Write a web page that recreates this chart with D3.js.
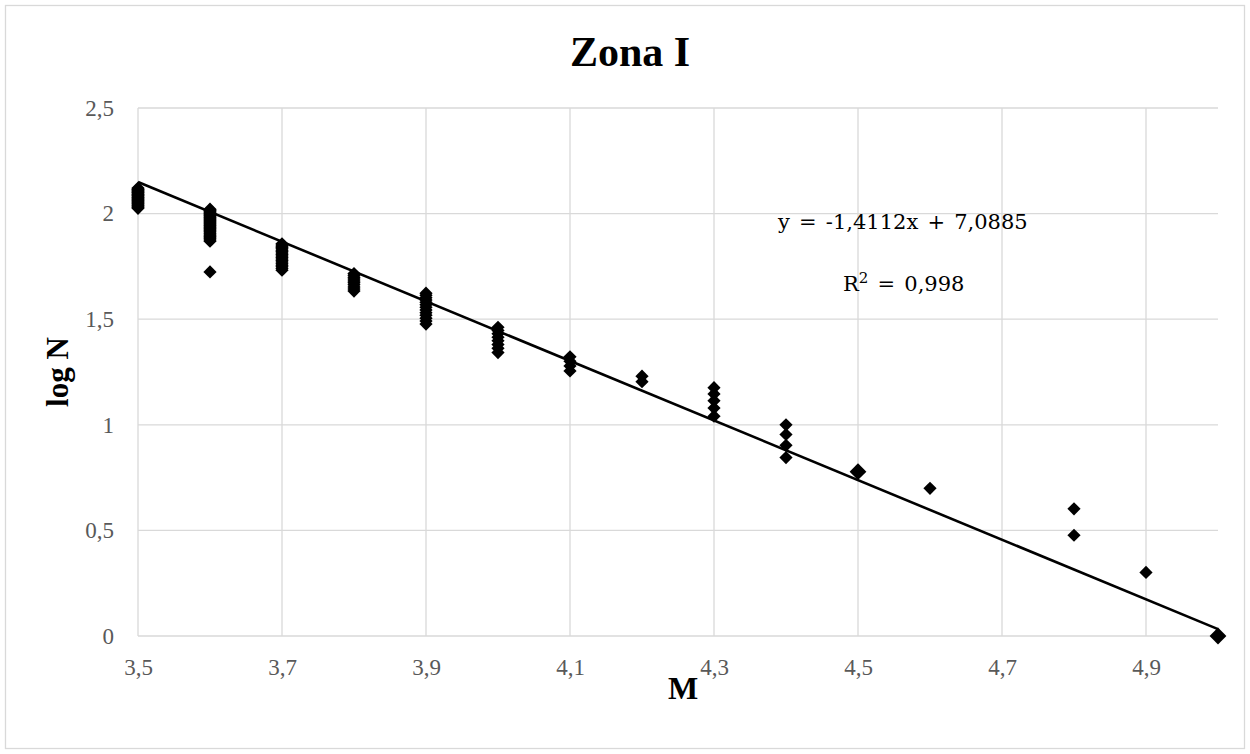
<!DOCTYPE html>
<html>
<head>
<meta charset="utf-8">
<script src="https://cdn.jsdelivr.net/npm/d3@7"></script>
<style>
  html, body { margin: 0; padding: 0; background: #fff; }
  svg { display: block; }
</style>
</head>
<body>
<svg id="chart" width="1250" height="754"></svg>
<script>
// ---- Data ----
const title = "Zona I";
const xLabel = "M";
const yLabel = "log N";
const xTicks = [3.5, 3.7, 3.9, 4.1, 4.3, 4.5, 4.7, 4.9];
const xTickLabels = ["3,5", "3,7", "3,9", "4,1", "4,3", "4,5", "4,7", "4,9"];
const yTicks = [0, 0.5, 1, 1.5, 2, 2.5];
const yTickLabels = ["0", "0,5", "1", "1,5", "2", "2,5"];

const magnitudes = [3.5, 3.6, 3.7, 3.8, 3.9, 4.0, 4.1, 4.2, 4.3, 4.4, 4.5, 4.6, 4.8, 4.9, 5.0];
const logN_35 = [2.025,2.029,2.033,2.037,2.041,2.045,2.049,2.053,2.057,2.061,2.064,2.068,2.072,2.076,2.079,2.083,2.086,2.090,2.093,2.097,2.100,2.104,2.107,2.111,2.114,2.117,2.121];
const logN_36 = [1.724,1.869,1.875,1.881,1.886,1.892,1.898,1.903,1.908,1.914,1.919,1.924,1.929,1.934,1.940,1.944,1.949,1.954,1.959,1.964,1.968,1.973,1.978,1.982,1.987,1.991,1.996,2.000,2.004,2.009,2.013,2.017,2.021];
const logN_37 = [1.732,1.740,1.748,1.756,1.763,1.771,1.778,1.785,1.792,1.799,1.806,1.813,1.820,1.826,1.833,1.839,1.845,1.851,1.857];
const logN_38 = [1.633,1.643,1.653,1.663,1.672,1.681,1.690,1.699,1.708,1.716];
const logN_39 = [1.477,1.491,1.505,1.519,1.531,1.544,1.556,1.568,1.580,1.591,1.602,1.613,1.623];
const logN_40 = [1.342,1.362,1.380,1.398,1.415,1.431,1.447,1.462];
const logN_41 = [1.255,1.279,1.301,1.322];
const logN_42 = [1.204,1.230];
const logN_43 = [1.041,1.079,1.114,1.146,1.176];
const logN_44 = [0.845,0.903,0.954,1.000];
const logN_45 = [0.778,0.778];
const logN_46 = [0.699];
const logN_48 = [0.477,0.602];
const logN_49 = [0.301];
const logN_50 = [0,0];
const logNByMagnitude = [logN_35, logN_36, logN_37, logN_38, logN_39, logN_40, logN_41,
  logN_42, logN_43, logN_44, logN_45, logN_46, logN_48, logN_49, logN_50];

const trendSlope = -1.4112;
const trendIntercept = 7.0885;
const equationText = "y = -1,4112x + 7,0885";
const r2Text = "0,998";

// ---- Layout ----
const W = 1250, H = 754;
const plot = { left: 138, right: 1218, top: 108, bottom: 636 };
const svg = d3.select("#chart");

svg.append("rect")
  .attr("x", 5.5).attr("y", 5.5).attr("width", W - 11).attr("height", H - 11)
  .attr("fill", "#fff").attr("stroke", "#d9d9d9").attr("stroke-width", 1.3);

const x = d3.scaleLinear().domain([3.5, 5.0]).range([plot.left, plot.right]);
const y = d3.scaleLinear().domain([0, 2.5]).range([plot.bottom, plot.top]);

// Grid
const grid = svg.append("g");
grid.selectAll("line.v").data(xTicks).join("line")
  .attr("x1", d => x(d)).attr("x2", d => x(d))
  .attr("y1", plot.top).attr("y2", plot.bottom)
  .attr("stroke", "#d9d9d9").attr("stroke-width", 1.3);
grid.selectAll("line.h").data(yTicks).join("line")
  .attr("x1", plot.left).attr("x2", plot.right)
  .attr("y1", d => y(d)).attr("y2", d => y(d))
  .attr("stroke", "#d9d9d9").attr("stroke-width", 1.3);

// Axes (labels only, via d3 axes)
const tickFont = "'Liberation Serif', serif";
const xAxis = d3.axisBottom(x).tickValues(xTicks).tickFormat((d, i) => xTickLabels[i]).tickSize(0).tickPadding(23);
const gx = svg.append("g").attr("transform", `translate(0,${plot.bottom})`).call(xAxis);
gx.select(".domain").remove();
gx.selectAll("text").attr("font-family", tickFont).attr("font-size", 23).attr("fill", "#595959");

const yAxis = d3.axisLeft(y).tickValues(yTicks).tickFormat((d, i) => yTickLabels[i]).tickSize(0).tickPadding(24);
const gy = svg.append("g").attr("transform", `translate(${plot.left},0)`).call(yAxis);
gy.select(".domain").remove();
gy.selectAll("text").attr("font-family", tickFont).attr("font-size", 23).attr("fill", "#595959");

// Points
const points = [];
magnitudes.forEach((m, i) => logNByMagnitude[i].forEach(v => points.push({ m, v })));
const grouped = d3.rollups(points, g => g.length, d => d.m + "|" + d.v)
  .map(([k, n]) => { const [m, v] = k.split("|").map(Number); return { m, v, n }; });

const diamond = r => `M0,${-r}L${r},0L0,${r}L${-r},0Z`;
svg.append("g").selectAll("path").data(grouped).join("path")
  .attr("transform", d => `translate(${x(d.m)},${y(d.v)})`)
  .attr("d", d => diamond(6.6 + (d.n - 1) * 1.8))
  .attr("fill", "#000");

// Trendline
const trendX = [3.5, 5.0];
svg.append("line")
  .attr("x1", x(trendX[0])).attr("y1", y(trendSlope * trendX[0] + trendIntercept))
  .attr("x2", x(trendX[1])).attr("y2", y(trendSlope * trendX[1] + trendIntercept))
  .attr("stroke", "#000").attr("stroke-width", 2.6);

// Titles
svg.append("text").attr("x", 630).attr("y", 66).attr("text-anchor", "middle")
  .attr("font-family", "'Liberation Serif', serif").attr("font-weight", "bold")
  .attr("font-size", 42).attr("fill", "#000").text(title);
svg.append("text").attr("x", 683).attr("y", 699).attr("text-anchor", "middle")
  .attr("font-family", "'Liberation Serif', serif").attr("font-weight", "bold")
  .attr("font-size", 32).attr("fill", "#000").text(xLabel);
svg.append("text").attr("transform", "translate(68,372) rotate(-90)").attr("text-anchor", "middle")
  .attr("font-family", "'Liberation Serif', serif").attr("font-weight", "bold")
  .attr("font-size", 31).attr("fill", "#000").text(yLabel);

// Equation
const eqFont = "'DejaVu Serif', serif";
svg.append("text").attr("x", 778).attr("y", 229)
  .attr("font-family", eqFont).attr("font-size", 21).attr("fill", "#000")
  .attr("word-spacing", 2.5).style("white-space", "pre").text(equationText);
const r2 = svg.append("text").attr("x", 843).attr("y", 291)
  .attr("font-family", eqFont).attr("font-size", 21).attr("fill", "#000")
  .attr("word-spacing", 2.5).style("white-space", "pre");
r2.append("tspan").text("R");
r2.append("tspan").attr("dy", -8).attr("font-size", 15).text("2");
r2.append("tspan").attr("dy", 8).text(" = " + r2Text);
</script>
</body>
</html>
